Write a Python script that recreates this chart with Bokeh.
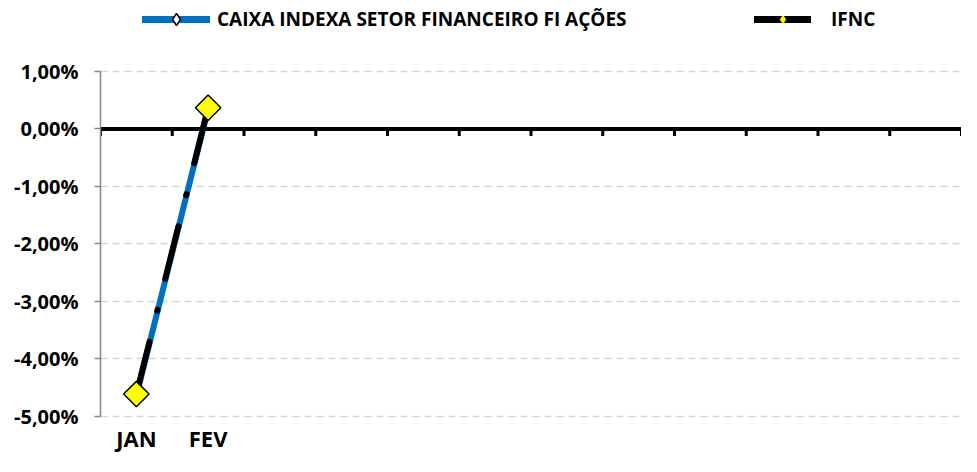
import math
from bokeh.plotting import figure
from bokeh.models import Range1d, FixedTicker, Span, Legend, LegendItem
from bokeh.core.properties import value
from bokeh.embed import file_html
from bokeh.resources import INLINE

# ---- data ----
months = ["JAN", "FEV", "", "", "", "", "", "", "", "", "", ""]
caixa = [-4.64, 0.35]
ifnc = [-4.61, 0.37]
yticks = [-5, -4, -3, -2, -1, 0, 1]
ytick_labels = ["-5,00%", "-4,00%", "-3,00%", "-2,00%", "-1,00%", "0,00%", "1,00%"]
series_names = ["CAIXA INDEXA SETOR FINANCEIRO FI AÇÕES", "IFNC"]

FONT = "Open Sans"
n = len(months)
xc = [i + 0.5 for i in range(n)]
x_caixa = xc[:len(caixa)]
x_ifnc = xc[:len(ifnc)]

# layout: frame spans whole height; value axis drawn only between -5 and 1
Y_TOP, Y_BOTTOM = 2.2348, -5.6957
LABEL_Y = -5.3826
TICK_LEN = 0.12

p = figure(width=961, height=456, x_range=Range1d(0, n), y_range=Range1d(Y_BOTTOM, Y_TOP),
           output_backend="svg", toolbar_location=None, x_axis_location=None,
           min_border_left=100, min_border_right=0, min_border_top=0, min_border_bottom=0,
           outline_line_color=None, background_fill_color="white")

# y axis
p.yaxis.ticker = FixedTicker(ticks=yticks)
p.yaxis.major_label_overrides = {t: l for t, l in zip(yticks, ytick_labels)}
p.yaxis.bounds = (min(yticks), max(yticks))
p.yaxis.axis_line_color = "#868686"
p.yaxis.axis_line_width = 1.5
p.yaxis.major_tick_line_color = "#868686"
p.yaxis.major_tick_line_width = 1.5
p.yaxis.major_tick_out = 6
p.yaxis.major_tick_in = 0
p.yaxis.minor_tick_line_color = None
p.yaxis.major_label_standoff = 16
p.yaxis.major_label_text_font = FONT
p.yaxis.major_label_text_font_style = "bold"
p.yaxis.major_label_text_font_size = "20px"
p.yaxis.major_label_text_color = "black"

p.ygrid.ticker = FixedTicker(ticks=yticks)
p.ygrid.grid_line_color = "#D4D4D4"
p.ygrid.grid_line_width = 1.5
p.ygrid.grid_line_dash = "7 5"
p.xgrid.visible = False

# zero axis line with category tick marks
p.add_layout(Span(location=0, dimension="width", line_color="black", line_width=4, level="underlay"))
bounds = list(range(n + 1))
p.segment(x0=bounds, y0=[0] * len(bounds), x1=bounds, y1=[-TICK_LEN] * len(bounds),
          line_color="black", line_width=3)

# category labels
p.text(x=xc, y=[LABEL_Y] * n, text=months, text_font=value(FONT), text_font_style="bold",
       text_font_size="22px", text_align="center", text_baseline="middle", text_color="black")

# series
p.line(x_caixa, caixa, line_color="#0070C0", line_width=6)
p.line(x_ifnc, ifnc, line_color="black", line_width=6, line_dash="54 32 1 32", line_cap="round")
p.scatter(x_caixa, caixa, marker="square", angle=math.pi / 4, size=9,
          fill_color="white", line_color="black", line_width=1.5)
p.scatter(x_ifnc, ifnc, marker="square", angle=math.pi / 4, size=18,
          fill_color="#FFFF00", line_color="black", line_width=1.5)

# legend proxies (no visible points)
nan = [float("nan")]
l1 = p.line(nan, nan, line_color="#0070C0", line_width=7, line_cap="round")
m1 = p.scatter(nan, nan, marker="diamond", size=12,
               fill_color="white", line_color="black", line_width=1.5)
l2 = p.line(nan, nan, line_color="black", line_width=7, line_cap="round")
m2 = p.scatter(nan, nan, marker="diamond", size=8,
               fill_color="#FFFF00", line_color="#FFFF00", line_width=1)

common = dict(orientation="horizontal", padding=0, margin=0, border_line_color=None,
              background_fill_alpha=0, label_text_font=FONT, label_text_font_style="bold",
              label_text_font_size="19px", label_text_color="black")
leg1 = Legend(items=[LegendItem(label=series_names[0], renderers=[l1, m1])],
              location=(42, 422), glyph_width=68, glyph_height=30, label_standoff=7, **common)
leg2 = Legend(items=[LegendItem(label=series_names[1], renderers=[l2, m2])],
              location=(654, 424), glyph_width=57, glyph_height=20, label_standoff=20, **common)
p.add_layout(leg1)
p.add_layout(leg2)

open("out.html", "w").write(file_html(p, INLINE))
